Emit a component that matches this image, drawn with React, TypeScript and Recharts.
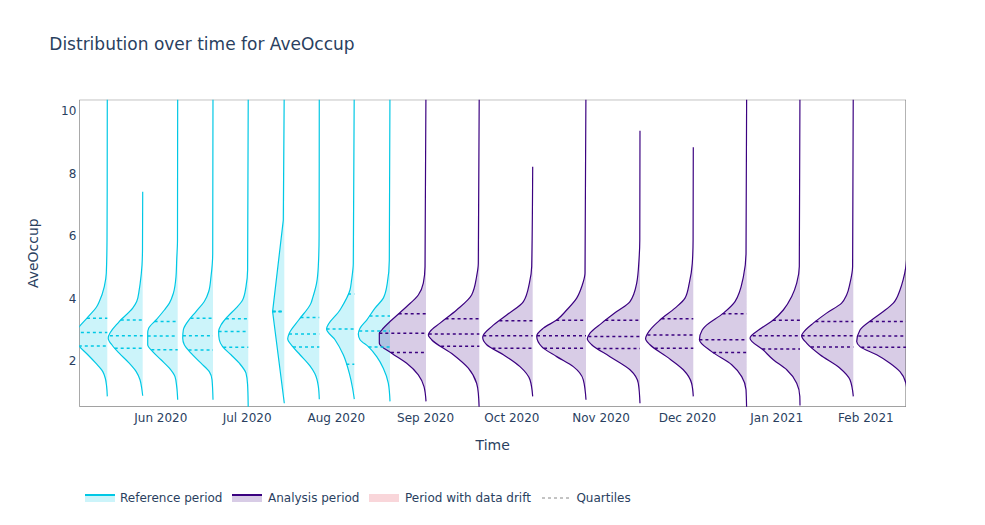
import React from 'react';
import { ComposedChart, Area, Line, XAxis, YAxis, ReferenceLine, ReferenceArea, Legend } from 'recharts';

const REF_COLOR = '#00c8e5';
const ANA_COLOR = '#3b0280';
const DRIFT_FILL = '#f9d6da';
const TEXT_COLOR = '#2a3f5f';
const FRAME_COLOR = '#666666';

// chunk end positions (days since 2020-06-01)
const referenceChunkEnds = [-18.59, -6.29, 5.87, 18.14, 30.4, 42.91, 55.07, 67.23, 79.64];
const analysisChunkEnds = [92.15, 110.67, 129.22, 147.74, 166.5, 185.02, 203.58, 222.1, 240.62, 259.69];

// x axis (days since 2020-06-01)
const X_MIN = -28.32;
const X_MAX = 258.93;
const monthTicks = [0, 30, 61, 92, 122, 153, 183, 214, 245];
const monthLabels = ['Jun 2020', 'Jul 2020', 'Aug 2020', 'Sep 2020', 'Oct 2020', 'Nov 2020', 'Dec 2020', 'Jan 2021', 'Feb 2021'];

// y axis
const Y_MIN = 0.54;
const Y_MAX = 10.35;
const yTicks = [2, 4, 6, 8, 10];

// width (in days) of a density of 1
const DENSITY_DAYS = 17.37;

// density outlines: [AveOccup, density]
const ref1 = [[11, 0], [7.5, 0.002], [5.87, 0.006], [4.81, 0.02], [4.38, 0.06], [3.9, 0.16], [3.74, 0.21], [3.4, 0.39], [3.1, 0.56], [2.8, 0.7], [2.48, 0.57], [2.2, 0.39], [1.93, 0.23], [1.66, 0.09], [1.45, 0.04], [1.19, 0.014], [0.87, 0]];
const ref2 = [[7.41, 0], [5.6, 0.004], [5.07, 0.014], [4.49, 0.05], [4.27, 0.07], [3.9, 0.12], [3.69, 0.2], [3.26, 0.47], [2.73, 0.69], [2.48, 0.6], [2.25, 0.47], [1.93, 0.27], [1.66, 0.13], [1.4, 0.054], [1.13, 0.02], [0.89, 0]];
const ref3 = [[11, 0], [5.87, 0.004], [5.23, 0.02], [4.7, 0.034], [4.17, 0.086], [3.85, 0.166], [3.63, 0.266], [3.31, 0.434], [3.05, 0.58], [2.89, 0.6], [2.52, 0.6], [2.3, 0.5], [2.04, 0.334], [1.77, 0.166], [1.5, 0.054], [1.18, 0.02], [0.76, 0]];
const ref4 = [[11, 0], [5.44, 0.006], [4.7, 0.04], [4.22, 0.086], [3.9, 0.174], [3.58, 0.34], [3.26, 0.506], [2.99, 0.594], [2.73, 0.606], [2.52, 0.574], [2.25, 0.44], [1.93, 0.24], [1.66, 0.074], [1.4, 0.02], [0.76, 0]];
const ref5 = [[11, 0], [4.91, 0.014], [4.38, 0.046], [3.95, 0.114], [3.69, 0.246], [3.42, 0.414], [3.15, 0.546], [2.94, 0.594], [2.68, 0.58], [2.46, 0.514], [2.2, 0.346], [1.93, 0.18], [1.61, 0.046], [1.24, 0.014], [0.55, 0.002], [0.3, 0]];
const ref6 = [[11, 0], [6.5, 0.02], [3.58, 0.234], [0.65, 0]];
const ref7 = [[11, 0], [6, 0.004], [5.02, 0.02], [4.49, 0.054], [4.01, 0.134], [3.85, 0.166], [3.31, 0.412], [2.89, 0.6], [2.71, 0.632], [2.46, 0.532], [2.2, 0.386], [1.85, 0.19], [1.6, 0.09], [1.2, 0.02], [0.78, 0]];
const ref8 = [[11, 0], [5.12, 0.02], [4.59, 0.054], [4.27, 0.086], [3.63, 0.286], [3.02, 0.554], [2.68, 0.386], [2.2, 0.22], [1.61, 0.1], [1.13, 0.034], [0.78, 0]];
const ref9 = [[11, 0], [5.23, 0.014], [4.49, 0.054], [4.01, 0.134], [3.69, 0.3], [3.31, 0.466], [3.05, 0.6], [2.86, 0.634], [2.68, 0.6], [2.46, 0.434], [2.14, 0.266], [1.77, 0.134], [1.29, 0.034], [0.71, 0]];

const ana1 = [[11, 0], [5.02, 0.02], [4.49, 0.054], [4.11, 0.154], [3.74, 0.386], [3.31, 0.686], [2.99, 0.886], [2.89, 0.934], [2.57, 0.934], [2.25, 0.686], [1.93, 0.386], [1.56, 0.154], [1.18, 0.04], [0.71, 0]];
const ana2 = [[11, 0], [5.12, 0.02], [4.7, 0.054], [4.11, 0.154], [3.63, 0.454], [3.21, 0.786], [2.94, 0.986], [2.83, 1.02], [2.68, 0.954], [2.2, 0.52], [1.77, 0.22], [1.29, 0.054], [0.97, 0.02], [0.3, 0]];
const ana3 = [[8.21, 0], [5.02, 0.02], [4.49, 0.066], [3.9, 0.186], [3.47, 0.52], [3.1, 0.82], [2.83, 0.986], [2.75, 1], [2.52, 0.92], [2.2, 0.586], [1.82, 0.254], [1.4, 0.054], [0.87, 0]];
const ana4 = [[11, 0], [4.81, 0.02], [4.4, 0.08], [4.01, 0.186], [3.63, 0.386], [3.31, 0.586], [3.05, 0.854], [2.8, 0.986], [2.46, 0.886], [2.14, 0.586], [1.82, 0.254], [1.4, 0.054], [0.76, 0]];
const ana5 = [[9.36, 0], [5.87, 0.004], [5.23, 0.02], [4.49, 0.066], [3.9, 0.2], [3.58, 0.466], [3.21, 0.766], [2.89, 1], [2.71, 1.054], [2.52, 0.966], [2.14, 0.6], [1.72, 0.2], [1.29, 0.034], [0.65, 0]];
const ana6 = [[8.83, 0], [5.87, 0.004], [5.12, 0.02], [4.49, 0.08], [4.01, 0.166], [3.69, 0.366], [3.31, 0.666], [2.99, 0.866], [2.71, 0.954], [2.52, 0.866], [2.14, 0.534], [1.72, 0.2], [1.29, 0.034], [0.87, 0]];
const ana7 = [[11, 0], [5.44, 0.014], [4.7, 0.066], [3.9, 0.234], [3.53, 0.466], [3.1, 0.834], [2.99, 0.89], [2.68, 0.946], [2.3, 0.7], [1.88, 0.3], [1.5, 0.1], [1.08, 0.014], [0.3, 0]];
const ana8 = [[11, 0], [5.02, 0.014], [4.49, 0.066], [4.06, 0.166], [3.63, 0.334], [3.31, 0.534], [3.02, 0.8], [2.73, 1], [2.35, 0.734], [2.04, 0.534], [1.72, 0.266], [1.29, 0.066], [0.87, 0.004], [0.58, 0]];
const ana9 = [[11, 0], [5.02, 0.014], [4.49, 0.066], [4.11, 0.134], [3.85, 0.234], [3.53, 0.534], [3.21, 0.8], [2.91, 1], [2.81, 1.034], [2.57, 0.934], [2.2, 0.666], [1.77, 0.266], [1.4, 0.066], [0.87, 0]];
const ana10 = [[6.5, 0], [5.5, 0.02], [5.02, 0.046], [4.6, 0.1], [4.27, 0.164], [3.85, 0.298], [3.58, 0.498], [3.31, 0.73], [2.99, 0.964], [2.62, 1.03], [2.46, 0.964], [2.2, 0.63], [1.93, 0.364], [1.66, 0.164], [1.29, 0.046], [0.8, 0.01], [0.5, 0]];

const referenceDensities = [ref1, ref2, ref3, ref4, ref5, ref6, ref7, ref8, ref9];
const analysisDensities = [ana1, ana2, ana3, ana4, ana5, ana6, ana7, ana8, ana9, ana10];

// quartiles [Q1, median, Q3]
const referenceQuartiles = [[2.48, 2.91, 3.37], [2.41, 2.81, 3.31], [2.36, 2.8, 3.26], [2.35, 2.81, 3.37], [2.44, 2.94, 3.35], [3.58, 3.58, 3.58], [2.45, 2.86, 3.39], [1.9, 3.02, 4.14], [2.45, 2.96, 3.44]];
const analysisQuartiles = [[2.27, 2.89, 3.51], [2.47, 2.86, 3.35], [2.41, 2.81, 3.29], [2.41, 2.81, 3.3], [2.4, 2.78, 3.3], [2.41, 2.83, 3.35], [2.27, 2.68, 3.51], [2.38, 2.81, 3.3], [2.45, 2.81, 3.26], [2.44, 2.8, 3.26]];

type Violin = { id: string; end: number; color: string; pts: number[][]; q: number[] };

const violins: Violin[] = [
  ...referenceDensities.map((pts, i) => ({ id: `r${i}`, end: referenceChunkEnds[i], color: REF_COLOR, pts, q: referenceQuartiles[i] })),
  ...analysisDensities.map((pts, i) => ({ id: `a${i}`, end: analysisChunkEnds[i], color: ANA_COLOR, pts, q: analysisQuartiles[i] })),
];

const rows = violins.flatMap((v) =>
  v.pts.map(([y, d]) => ({ vid: v.id, y, lo: v.end, hi: v.end - d * DENSITY_DAYS }))
);

function densityAt(pts: number[][], q: number): number {
  for (let i = 0; i < pts.length - 1; i++) {
    const [y0, d0] = pts[i];
    const [y1, d1] = pts[i + 1];
    if (q <= y0 && q >= y1) {
      const t = y0 === y1 ? 0 : (y0 - q) / (y0 - y1);
      return d0 + (d1 - d0) * t;
    }
  }
  return 0;
}

const legendItems = [
  { label: 'Reference period', kind: 'ref' },
  { label: 'Analysis period', kind: 'ana' },
  { label: 'Period with data drift', kind: 'drift' },
  { label: 'Quartiles', kind: 'quart' },
];

function LegendSample({ kind }: { kind: string }) {
  if (kind === 'ref' || kind === 'ana') {
    const c = kind === 'ref' ? REF_COLOR : ANA_COLOR;
    return (
      <svg width={30} height={8} style={{ display: 'block' }}>
        <rect x={0} y={0} width={30} height={8} fill={c} fillOpacity={0.2} />
        <line x1={0} x2={30} y1={1} y2={1} stroke={c} strokeWidth={2} />
      </svg>
    );
  }
  if (kind === 'drift') {
    return (
      <svg width={30} height={8} style={{ display: 'block' }}>
        <rect x={0} y={0} width={30} height={8} fill={DRIFT_FILL} />
      </svg>
    );
  }
  return (
    <svg width={30} height={8} style={{ display: 'block' }}>
      <line x1={1} x2={30} y1={4} y2={4} stroke="#888" strokeWidth={1} strokeDasharray="3 3" />
    </svg>
  );
}

function renderLegend() {
  return (
    <div style={{ display: 'flex', alignItems: 'center', fontSize: 12, color: TEXT_COLOR, fontFamily: 'DejaVu Sans', whiteSpace: 'nowrap', height: 18 }}>
      {legendItems.map((it) => (
        <div key={it.label} style={{ display: 'flex', alignItems: 'center', marginRight: 10 }}>
          <LegendSample kind={it.kind} />
          <span style={{ marginLeft: 5.5, lineHeight: '18px' }}>{it.label}</span>
        </div>
      ))}
    </div>
  );
}

export default function App() {
  return (
    <div style={{ position: 'absolute', left: 0, top: 0, width: 985, height: 525, background: '#fff', fontFamily: 'DejaVu Sans' }}>
      <div style={{ position: 'absolute', left: 49.3, top: 33.6, fontSize: 17, lineHeight: '20px', color: TEXT_COLOR, whiteSpace: 'nowrap', zIndex: 2 }}>
        Distribution over time for AveOccup
      </div>
      <ComposedChart
        width={985}
        height={525}
        layout="vertical"
        data={rows}
        margin={{ top: 99.7, right: 79, bottom: 68.3, left: 0 }}
      >
        <XAxis
          type="number"
          dataKey="lo"
          domain={[X_MIN, X_MAX]}
          allowDataOverflow
          ticks={monthTicks}
          tickFormatter={(v: number) => monthLabels[monthTicks.indexOf(v)] ?? ''}
          tick={{ fontSize: 12, fill: TEXT_COLOR }}
          tickLine={false}
          axisLine={false}
          tickSize={5}
          tickMargin={2}
          height={50}
          interval={0}
          label={{ value: 'Time', position: 'insideBottom', offset: 7.2, style: { fontSize: 14, fill: TEXT_COLOR } }}
        />
        <YAxis
          type="number"
          dataKey="y"
          domain={[Y_MIN, Y_MAX]}
          allowDataOverflow
          reversed
          ticks={yTicks}
          tick={{ fontSize: 12, fill: TEXT_COLOR }}
          tickLine={false}
          axisLine={false}
          tickSize={1}
          tickMargin={2}
          width={79.3}
          interval={0}
          label={{ value: 'AveOccup', angle: -90, position: 'insideLeft', offset: 33, style: { fontSize: 14, fill: TEXT_COLOR, textAnchor: 'middle' } }}
        />
        {violins.map((v) => (
          <Area
            key={`fill-${v.id}`}
            dataKey={(r: any) => (r.vid === v.id ? [r.lo, r.hi] : null)}
            type={v.pts.length <= 4 ? 'linear' : 'monotone'}
            stroke="none"
            fill={v.color}
            fillOpacity={0.2}
            isAnimationActive={false}
            activeDot={false}
            dot={false}
          />
        ))}
        {violins.map((v) => (
          <Line
            key={`line-${v.id}`}
            dataKey={(r: any) => (r.vid === v.id ? r.hi : null)}
            type={v.pts.length <= 4 ? 'linear' : 'monotone'}
            stroke={v.color}
            strokeWidth={1.2}
            dot={false}
            activeDot={false}
            isAnimationActive={false}
          />
        ))}
        {violins.flatMap((v) =>
          v.q.map((q, j) => (
            <ReferenceLine
              key={`q-${v.id}-${j}`}
              segment={[
                { x: v.end - densityAt(v.pts, q) * DENSITY_DAYS, y: q },
                { x: v.end, y: q },
              ]}
              stroke={v.color}
              strokeWidth={1.5}
              strokeDasharray="3 3"
              ifOverflow="hidden"
            />
          ))
        )}
        <ReferenceArea x1={X_MIN} x2={X_MAX} y1={Y_MIN} y2={Y_MAX} fill="none" stroke={FRAME_COLOR} strokeWidth={1} ifOverflow="hidden" />
        <Legend
          layout="horizontal"
          verticalAlign="middle"
          align="center"
          content={renderLegend}
          wrapperStyle={{ left: 84.5, top: 489, width: 700, height: 18 }}
        />
      </ComposedChart>
    </div>
  );
}
